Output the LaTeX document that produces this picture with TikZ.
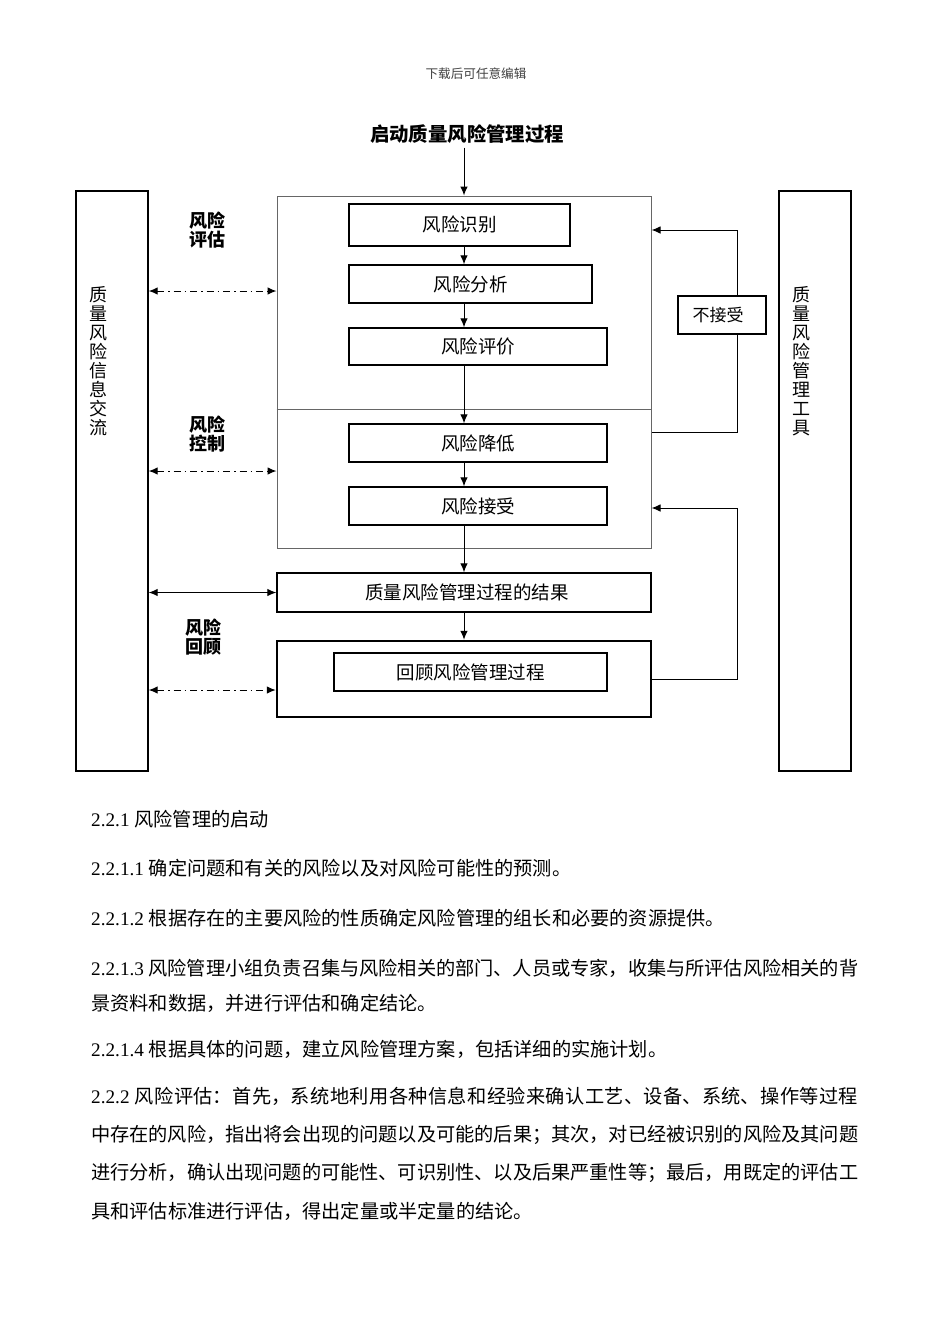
\documentclass[tikz,border=0pt]{standalone}
\usepackage{fontspec}
\setmainfont{Noto Sans CJK SC}
\newfontfamily\lat{Liberation Serif}
\usetikzlibrary{arrows.meta}
\XeTeXlinebreaklocale "zh"
\XeTeXlinebreakskip=0pt plus 2pt minus 0.2pt
\newcommand\fullline[1]{\parbox[b]{767pt}{\parfillskip=0pt\relax #1}}
\tikzset{
  body/.style={anchor=base west, inner sep=0pt, font=\fontsize{19.2}{24}\selectfont},
  pbox/.style={draw, line width=1.4pt, inner sep=0pt, font=\fontsize{18.5}{20}\selectfont},
  tallbox/.style={draw, line width=1.4pt, inner sep=0pt, minimum width=72pt, minimum height=580pt},
  frame/.style={draw=black!60, line width=1pt},
  conn/.style={line width=1pt},
  arr/.style={conn, -{Latex[length=9pt,width=7.5pt]}},
  darr/.style={conn, {Latex[length=9pt,width=7.5pt]}-{Latex[length=9pt,width=7.5pt]}},
  dd/.style={darr, dash pattern=on 7pt off 4pt on 1.5pt off 4pt},
  lbl/.style={font=\bfseries\fontsize{18}{19.5}\selectfont, align=center, inner sep=0pt},
  vtext/.style={font=\fontsize{18}{19}\selectfont, align=center, inner sep=0pt},
}
\begin{document}
\begin{tikzpicture}[x=1pt,y=-1pt]
\fill[white] (0,0) rectangle (950,1344);
\useasboundingbox (0,0) rectangle (950,1344);

% header and title
\node[font=\fontsize{12.6}{13}\selectfont, text=black!75, inner sep=0pt] (hdr) at (476,74) {下载后可任意编辑};
\node[font=\bfseries\fontsize{19.4}{20}\selectfont, inner sep=0pt] (title) at (467,134) {启动质量风险管理过程};

% side boxes
\node[tallbox] (info) at (112,481) {};
\node[tallbox] (tools) at (815,481) {};
\node[vtext] (infot) at (98,361) {质\\量\\风\\险\\信\\息\\交\\流};
\node[vtext] (toolst) at (801,361) {质\\量\\风\\险\\管\\理\\工\\具};

% big frame
\node[frame, minimum width=374pt, minimum height=352pt, inner sep=0pt] (big) at (464,372) {};
\draw[frame] (big.west |- 0,409) -- (big.east |- 0,409);

% process boxes
\node[pbox, minimum width=221pt, minimum height=42pt] (ident) at (459.5,225) {\raisebox{3pt}{风险识别}};
\node[pbox, minimum width=243pt, minimum height=38pt] (anal) at (470.5,284) {风险分析};
\node[pbox, minimum width=258pt, minimum height=37pt] (eval) at (478,346.5) {风险评价};
\node[pbox, minimum width=258pt, minimum height=38pt] (redu) at (478,443) {风险降低};
\node[pbox, minimum width=258pt, minimum height=38pt] (acc) at (478,506) {风险接受};
\node[pbox, minimum width=374pt, minimum height=39pt] (result) at (464,592.5) {\hspace*{6pt}质量风险管理过程的结果};
\node[draw, line width=2.5pt, minimum width=374pt, minimum height=76pt, inner sep=0pt] (reviewo) at (464,679) {};
\node[pbox, minimum width=273pt, minimum height=38pt] (reviewi) at (470.5,672) {回顾风险管理过程};
\node[pbox, line width=1.2pt, minimum width=88pt, minimum height=38pt, font=\fontsize{17}{18}\selectfont] (buka) at (722,315) {\raisebox{2pt}{不接受}\hspace*{8pt}};

% labels
\node[lbl] (l1) at (207,230) {风险\\评估};
\node[lbl] (l2) at (207,434) {风险\\控制};
\node[lbl] (l3) at (203,637) {风险\\回顾};

% main flow
\draw[arr] (title.south -| big.north) ++(0,4) -- (big.north);
\draw[arr] (ident.south -| big.north) -- (anal.north -| big.north);
\draw[arr] (anal.south -| big.north) -- (eval.north -| big.north);
\draw[arr] (eval.south -| big.north) -- (redu.north -| big.north);
\draw[arr] (redu.south -| big.north) -- (acc.north -| big.north);
\draw[arr] (acc.south -| big.north) -- (result.north);
\draw[arr] (result.south) -- (reviewo.north);

% information exchange arrows
\draw[dd] (info.east |- 0,291) -- (big.west |- 0,291);
\draw[dd] (info.east |- 0,471) -- (big.west |- 0,471);
\draw[darr] (info.east |- result.west) -- (result.west);
\draw[dd] (info.east |- 0,690) -- (reviewo.west |- 0,690);

% feedback loops
\coordinate (fa) at (737,230);
\coordinate (fb) at (737,432);
\coordinate (fc) at (737,679);
\coordinate (fd) at (737,508);
\draw[arr] (fa) -- (big.east |- fa);
\draw[conn] (fa) -- (buka.north -| fa);
\draw[conn] (buka.south -| fa) -- (fb) -- (big.east |- fb);
\draw[arr] (reviewo.east |- fc) -- (fc) -- (fd) -- (big.east |- fd);

% body text
\node[body] (t1) at (91,826) {{\lat 2.2.1 }风险管理的启动};
\node[body] (t2) at (91,875) {{\lat 2.2.1.1 }确定问题和有关的风险以及对风险可能性的预测。};
\node[body] (t3) at (91,925) {{\lat 2.2.1.2 }根据存在的主要风险的性质确定风险管理的组长和必要的资源提供。};
\node[body] (t4) at (91,975) {\fullline{{\lat 2.2.1.3 }风险管理小组负责召集与风险相关的部门、人员或专家，收集与所评估风险相关的背}};
\node[body] (t5) at (91,1010) {景资料和数据，并进行评估和确定结论。};
\node[body] (t6) at (91,1056) {{\lat 2.2.1.4 }根据具体的问题，建立风险管理方案，包括详细的实施计划。};
\node[body] (t7) at (91,1103) {\fullline{{\lat 2.2.2 }风险评估：首先，系统地利用各种信息和经验来确认工艺、设备、系统、操作等过程}};
\node[body] (t8) at (91,1141) {\fullline{中存在的风险，指出将会出现的问题以及可能的后果；其次，对已经被识别的风险及其问题}};
\node[body] (t9) at (91,1179) {\fullline{进行分析，确认出现问题的可能性、可识别性、以及后果严重性等；最后，用既定的评估工}};
\node[body] (t10) at (91,1218) {具和评估标准进行评估，得出定量或半定量的结论。};
\end{tikzpicture}
\end{document}
